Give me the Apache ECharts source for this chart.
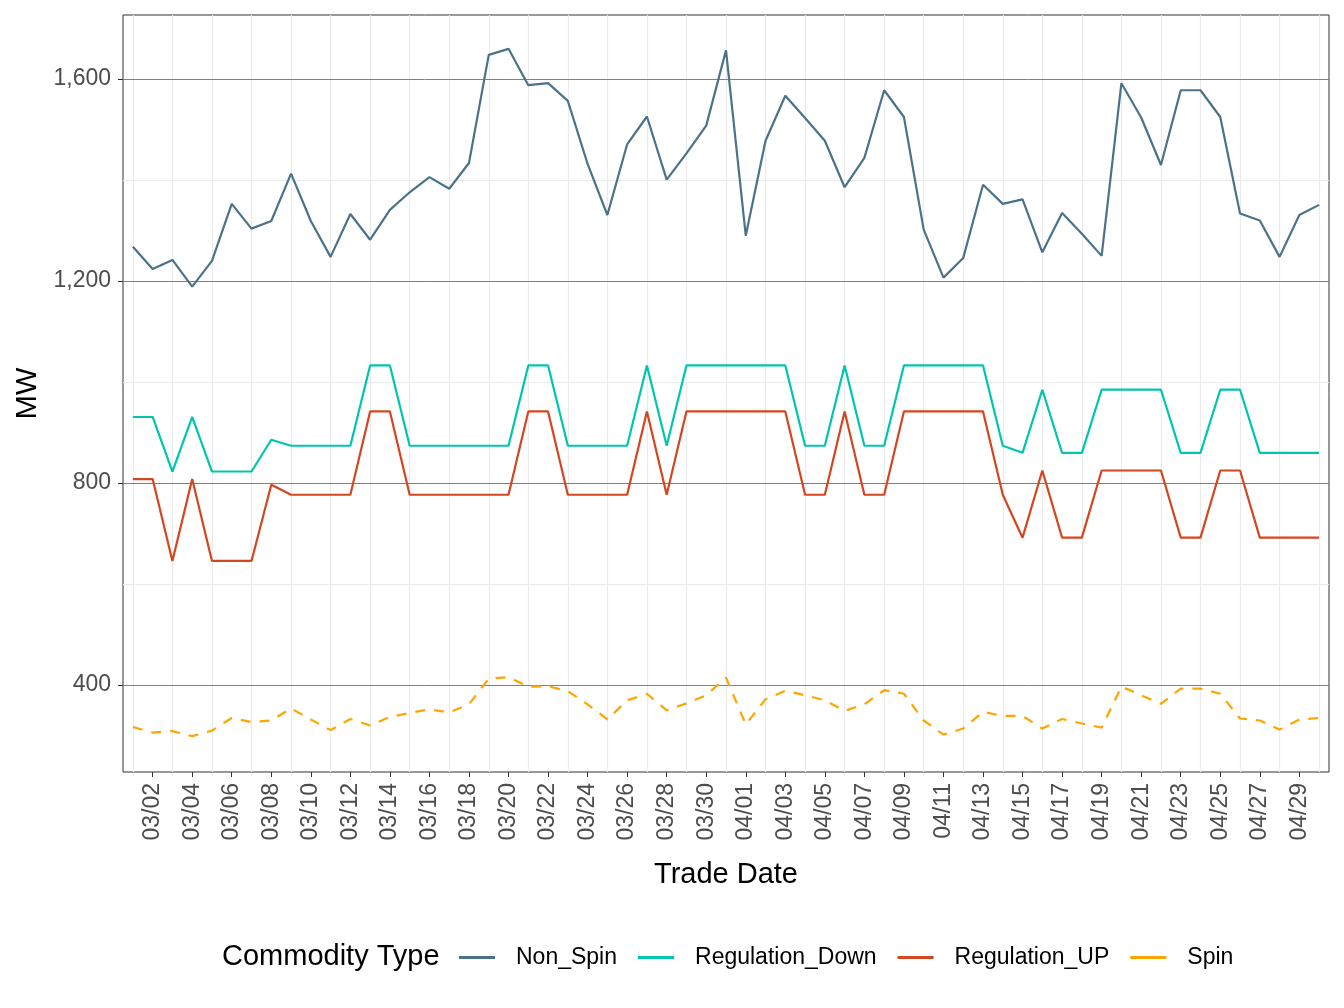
<!DOCTYPE html>
<html>
<head>
<meta charset="utf-8">
<script src="https://cdn.jsdelivr.net/npm/echarts@6/dist/echarts.min.js"></script>
<style>
  html, body { margin: 0; padding: 0; background: #fff; }
  #main { width: 1344px; height: 1008px; }
</style>
</head>
<body>
<div id="main"></div>
<script>
// trade dates 03/01 .. 04/30
var tradeDates = [
  '03/01','03/02','03/03','03/04','03/05','03/06','03/07','03/08','03/09','03/10',
  '03/11','03/12','03/13','03/14','03/15','03/16','03/17','03/18','03/19','03/20',
  '03/21','03/22','03/23','03/24','03/25','03/26','03/27','03/28','03/29','03/30',
  '03/31',
  '04/01','04/02','04/03','04/04','04/05','04/06','04/07','04/08','04/09','04/10',
  '04/11','04/12','04/13','04/14','04/15','04/16','04/17','04/18','04/19','04/20',
  '04/21','04/22','04/23','04/24','04/25','04/26','04/27','04/28','04/29','04/30'
];

var nonSpin = [
  1268,1224,1242,1189,1240,1353,1304,1319,1413,1319,
  1248,1333,1282,1341,1376,1406,1383,1434,1648,1660,
  1588,1592,1557,1432,1331,1471,1526,1401,1453,1508,
  1657,
  1290,1478,1567,1523,1478,1386,1444,1578,1525,1302,
  1207,1246,1391,1353,1362,1257,1335,1294,1250,1592,
  1524,1430,1578,1578,1525,1334,1320,1248,1331,1351
];

var regulationDown = [
  931,931,823,931,823,823,823,886,874,874,
  874,874,1033,1033,874,874,874,874,874,874,
  1033,1033,874,874,874,874,1033,874,1033,1033,
  1033,
  1033,1033,1033,874,874,1033,874,874,1033,1033,
  1033,1033,1033,874,860,985,860,860,985,985,
  985,985,860,860,985,985,860,860,860,860
];

var regulationUp = [
  808,808,646,808,646,646,646,797,777,777,
  777,777,942,942,777,777,777,777,777,777,
  942,942,777,777,777,777,942,777,942,942,
  942,
  942,942,942,777,777,942,777,777,942,942,
  942,942,942,777,692,825,692,692,825,825,
  825,825,692,692,825,825,692,692,692,692
];

var spin = [
  317,306,309,299,310,335,327,330,354,332,
  311,333,320,337,345,352,346,362,413,416,
  397,398,388,362,332,370,383,350,364,380,
  415,
  322,372,389,380,370,349,362,390,383,330,
  302,314,347,339,339,314,333,324,316,397,
  380,363,393,393,383,334,330,312,332,335
];

var yTicks = [400, 800, 1200, 1600];
var yMinor = [600, 1000, 1400];

var FONT = '"Liberation Sans", Arial, Helvetica, sans-serif';

var chart = echarts.init(document.getElementById('main'));

// vertical grid lines sit on every other date (03/01, 03/03, ...)
var vLines = tradeDates.filter(function (d, i) { return i % 2 === 0; })
  .map(function (d) { return { xAxis: d, lineStyle: { color: '#ebebeb', width: 1.2, type: 'solid' } }; });
var hMinor = yMinor.map(function (v) { return { yAxis: v, lineStyle: { color: '#ebebeb', width: 1.2, type: 'solid' } }; });
var hMajor = yTicks.map(function (v) { return { yAxis: v, lineStyle: { color: '#808080', width: 1, type: 'solid' } }; });

function lineSeries(name, data, color, dashed) {
  return {
    name: name,
    type: 'line',
    data: data,
    symbol: 'none',
    z: 3,
    lineStyle: { color: color, width: 2.2, type: dashed ? [10, 9] : 'solid' },
    itemStyle: { color: color }
  };
}

var option = {
  animation: false,
  backgroundColor: '#fff',
  textStyle: { fontFamily: FONT },
  grid: {
    left: 123, right: 15, top: 15, bottom: 236,
    show: true, borderColor: '#333', borderWidth: 1, backgroundColor: 'transparent'
  },
  title: {
    text: 'Commodity Type',
    left: 222, top: 942, padding: 0,
    textStyle: { fontFamily: FONT, fontSize: 29, fontWeight: 'normal', color: '#000' }
  },
  legend: {
    data: ['Non_Spin', 'Regulation_Down', 'Regulation_UP', 'Spin'],
    left: 459, top: 946, padding: 0,
    icon: 'rect',
    itemWidth: 36, itemHeight: 3, itemGap: 21,
    textStyle: { fontFamily: FONT, fontSize: 23, color: '#000', padding: [0, 0, 0, 16] }
  },
  xAxis: {
    type: 'category',
    data: tradeDates,
    boundaryGap: true,
    name: 'Trade Date',
    nameLocation: 'middle',
    nameGap: 88,
    nameTextStyle: { fontFamily: FONT, fontSize: 29, color: '#000' },
    axisLine: { show: false },
    axisTick: {
      show: true, alignWithLabel: true, length: 5,
      interval: function (i) { return i % 2 === 1; },
      lineStyle: { color: '#333', width: 1 }
    },
    axisLabel: {
      rotate: 90, margin: 11,
      interval: function (i) { return i % 2 === 1; },
      fontFamily: FONT, fontSize: 23, color: '#4d4d4d'
    },
    splitLine: { show: false }
  },
  yAxis: {
    type: 'value',
    min: 228, max: 1727,
    name: 'MW',
    nameLocation: 'middle',
    nameRotate: 90,
    nameGap: 80,
    nameTextStyle: { fontFamily: FONT, fontSize: 29, color: '#000' },
    axisLine: { show: false },
    axisTick: {
      show: true, length: 5, customValues: yTicks,
      lineStyle: { color: '#333', width: 1 }
    },
    axisLabel: {
      customValues: yTicks, margin: 12,
      fontFamily: FONT, fontSize: 23, color: '#4d4d4d',
      formatter: function (v) { return v.toLocaleString('en-US'); }
    },
    splitLine: { show: false }
  },
  series: [
    {
      name: 'grid',
      type: 'line',
      data: [],
      z: 1,
      silent: true,
      markLine: {
        silent: true,
        symbol: 'none',
        label: { show: false },
        z: 1,
        data: vLines.concat(hMinor).concat(hMajor)
      }
    },
    lineSeries('Non_Spin', nonSpin, '#4a7389', false),
    lineSeries('Regulation_Down', regulationDown, '#00c5b0', false),
    lineSeries('Regulation_UP', regulationUp, '#d4461f', false),
    lineSeries('Spin', spin, '#ffa500', true)
  ]
};

chart.setOption(option);
</script>
</body>
</html>
